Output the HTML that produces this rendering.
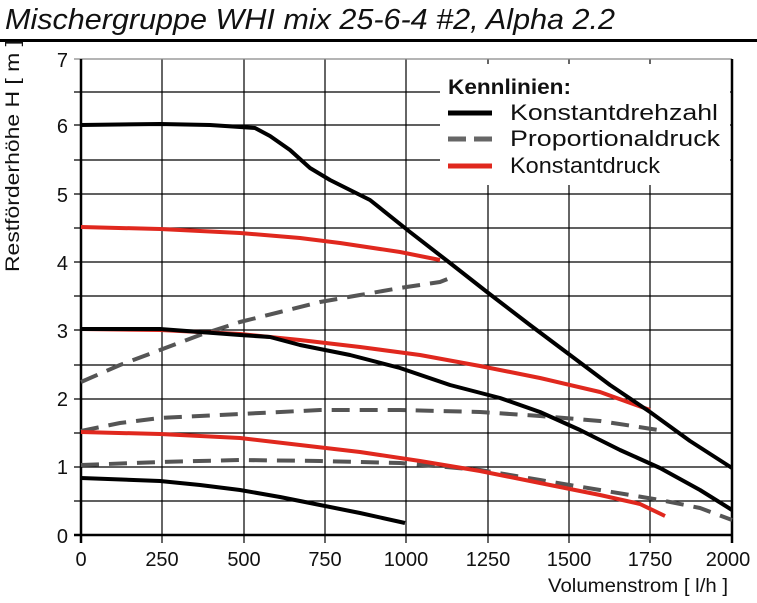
<!DOCTYPE html>
<html><head><meta charset="utf-8"><style>
body{margin:0;background:#fff;}
svg text{font-family:"Liberation Sans",sans-serif;}
</style></head><body>
<svg width="757" height="598" viewBox="0 0 757 598" xmlns="http://www.w3.org/2000/svg">
<text x="5" y="29" font-size="29" font-style="italic" fill="#111" textLength="610" lengthAdjust="spacingAndGlyphs">Mischergruppe WHI mix 25-6-4 #2, Alpha 2.2</text>
<rect x="0" y="39" width="757" height="3" fill="#000"/>
<g stroke="#000" stroke-width="1.2">
<line x1="162" y1="59" x2="162" y2="543"/><line x1="244" y1="59" x2="244" y2="543"/>
<line x1="325" y1="59" x2="325" y2="543"/><line x1="406" y1="59" x2="406" y2="543"/>
<line x1="488" y1="59" x2="488" y2="543"/><line x1="569" y1="59" x2="569" y2="543"/>
<line x1="650" y1="59" x2="650" y2="543"/>
<line x1="74" y1="501" x2="732" y2="501"/><line x1="74" y1="467" x2="732" y2="467"/>
<line x1="74" y1="433" x2="732" y2="433"/><line x1="74" y1="399" x2="732" y2="399"/>
<line x1="74" y1="365" x2="732" y2="365"/><line x1="74" y1="330" x2="732" y2="330"/>
<line x1="74" y1="296" x2="732" y2="296"/><line x1="74" y1="262" x2="732" y2="262"/>
<line x1="74" y1="228" x2="732" y2="228"/><line x1="74" y1="194" x2="732" y2="194"/>
<line x1="74" y1="160" x2="732" y2="160"/><line x1="74" y1="125" x2="732" y2="125"/>
<line x1="74" y1="92" x2="732" y2="92"/>
</g>
<line x1="74" y1="59" x2="732" y2="59" stroke="#888" stroke-width="1.2"/>
<line x1="81" y1="59" x2="81" y2="543" stroke="#000" stroke-width="2.5"/>
<line x1="732" y1="59" x2="732" y2="543" stroke="#000" stroke-width="2.5"/>
<line x1="74" y1="535" x2="732" y2="535" stroke="#000" stroke-width="2.5"/>
<g font-size="20" fill="#111" text-anchor="end">
<text x="68" y="67">7</text><text x="68" y="133">6</text><text x="68" y="202">5</text>
<text x="68" y="270">4</text><text x="68" y="338">3</text><text x="68" y="406">2</text>
<text x="68" y="474">1</text><text x="68" y="543">0</text>
</g>
<g font-size="20" fill="#111" text-anchor="middle">
<text x="81" y="566">0</text><text x="162" y="566">250</text><text x="244" y="566">500</text>
<text x="325" y="566">750</text><text x="406" y="566">1000</text><text x="488" y="566">1250</text>
<text x="569" y="566">1500</text><text x="650" y="566">1750</text><text x="728" y="566">2000</text>
</g>
<text x="548" y="592" font-size="19" fill="#111" textLength="180" lengthAdjust="spacingAndGlyphs">Volumenstrom [ l/h ]</text>
<text transform="translate(19,272) rotate(-90)" font-size="19" fill="#111" textLength="232" lengthAdjust="spacingAndGlyphs">Restförderhöhe H [ m ]</text>
<g fill="none" stroke-width="4" stroke-linejoin="round" stroke-linecap="butt">
<polyline stroke="#555" stroke-dasharray="18,10" points="81,382 120,365 160,350 200,335 240,322 280,312 320,302 360,295 400,288 440,282 455,276"/>
<polyline stroke="#555" stroke-dasharray="18,10" points="81,431 120,423 160,418 240,414 320,410 400,410 480,412 540,416 600,421 665,431"/>
<polyline stroke="#555" stroke-dasharray="18,10" points="81,465 160,462 240,460 320,461 400,463 480,470 540,480 600,490 660,500 700,508 732,520"/>
<polyline stroke="#e0281e" points="81,227 160,229 240,233 300,238 340,243 400,252 440,260"/>
<polyline stroke="#e0281e" points="81,329 160,330 240,334 300,340 360,347 420,355 480,366 540,378 600,392 650,410"/>
<polyline stroke="#e0281e" points="81,432 160,434 240,438 300,445 360,452 420,461 480,471 540,483 600,495 640,504 665,516"/>
<polyline stroke="#000" points="81,125 160,124 210,125 240,127 255,128 270,136 290,150 310,168 330,180 370,200 410,232 450,263 487,292 530,325 570,355 610,385 650,412 690,441 732,468"/>
<polyline stroke="#000" points="81,329 160,329 240,335 270,337 300,345 350,355 400,368 450,385 500,398 540,412 580,430 620,450 660,468 700,490 732,510"/>
<polyline stroke="#000" points="81,478 160,481 200,485 240,490 280,497 320,505 360,513 405,523"/>
</g>
<rect x="440" y="64" width="290" height="121" fill="#fff"/>
<text x="448" y="94" font-size="21" font-weight="bold" fill="#111" textLength="123" lengthAdjust="spacingAndGlyphs">Kennlinien:</text>
<line x1="448" y1="113" x2="492" y2="113" stroke="#000" stroke-width="5"/>
<line x1="448" y1="139" x2="492" y2="139" stroke="#666" stroke-width="5" stroke-dasharray="18,8"/>
<line x1="448" y1="166" x2="492" y2="166" stroke="#e0281e" stroke-width="5"/>
<g font-size="22" fill="#111">
<text x="510" y="120" textLength="208" lengthAdjust="spacingAndGlyphs">Konstantdrehzahl</text>
<text x="510" y="146" textLength="210" lengthAdjust="spacingAndGlyphs">Proportionaldruck</text>
<text x="510" y="173" textLength="150" lengthAdjust="spacingAndGlyphs">Konstantdruck</text>
</g>
</svg>
</body></html>
